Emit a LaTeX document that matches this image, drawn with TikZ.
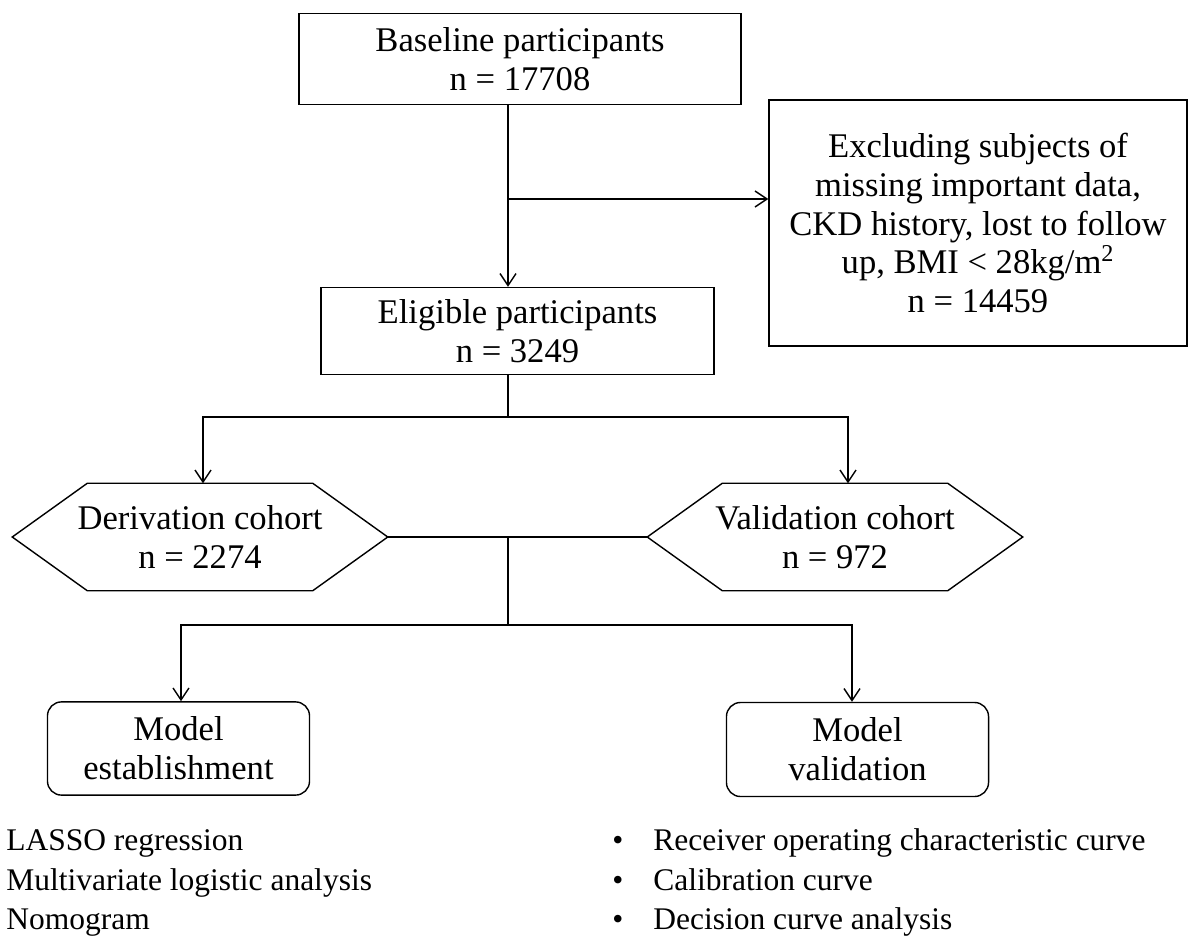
\documentclass[tikz,border=0pt]{standalone}
\usepackage{fontspec}
\setmainfont{Liberation Serif}
\usetikzlibrary{arrows.meta}

\tikzset{
  flowbox/.style={draw, line width=1pt, align=center, inner sep=0pt,
    font=\fontsize{24.6}{27.7}\selectfont},
  roundbox/.style={flowbox, rounded corners=10pt},
  cohort/.style={flowbox, draw=none, minimum width=9.35cm, minimum height=2.65cm},
  link/.style={line width=1pt},
  arr/.style={link, -{Straight Barb[length=3mm, width=4mm]}},
  listtext/.style={anchor=base west, inner sep=0pt,
    font=\fontsize{22.4}{27}\selectfont}
}

\begin{document}
\begin{tikzpicture}[x=0.025cm, y=-0.025cm]
  \path[use as bounding box, clip] (0,0) rectangle (1188,938);

  % boxes
  \node[flowbox, minimum width=11.05cm, minimum height=2.275cm] (base) at (520,59)
    {Baseline participants\\n = 17708};
  \node[flowbox, minimum width=10.45cm, minimum height=6.15cm] (excl) at (978,223)
    {Excluding subjects of\\missing important data,\\CKD history, lost to follow\\up, BMI < 28kg/m\textsuperscript{2}\\n = 14459};
  \node[flowbox, minimum width=9.825cm, minimum height=2.175cm] (elig) at (517.5,331)
    {Eligible participants\\n = 3249};
  \node[cohort] (deriv) at (200,537) {Derivation cohort\\n = 2274};
  \node[cohort] (valid) at (835,537) {Validation cohort\\n = 972};
  % hexagon outlines
  \foreach \c in {deriv, valid}
    \draw[link] (\c.west) -- ([xshift=1.875cm]\c.north west)
      -- ([xshift=-1.875cm]\c.north east) -- (\c.east)
      -- ([xshift=-1.875cm]\c.south east) -- ([xshift=1.875cm]\c.south west) -- cycle;
  \node[roundbox, minimum width=6.55cm, minimum height=2.33cm] (mest) at (178.5,748.5)
    {Model\\establishment};
  \node[roundbox, minimum width=6.55cm, minimum height=2.35cm] (mval) at (857.5,749.5)
    {Model\\validation};

  % branch points
  \coordinate (j1) at (508,199);
  \coordinate (j2) at (508,417);
  \coordinate (j3) at (508,537);
  \coordinate (j4) at (508,625);

  % connectors
  \draw[arr] (base.south -| j1) -- (elig.north -| j1);
  \draw[arr] (j1) -- (j1 -| excl.west);
  \draw[link] (elig.south -| j2) -- (j2);
  \draw[arr] (j2) -- (203,417) -- (deriv.north -| 203,0);
  \draw[arr] (j2) -- (848,417) -- (valid.north -| 848,0);
  \draw[link] (deriv.east) -- (valid.west);
  \draw[link] (j3) -- (j4);
  \draw[arr] (j4) -- (181,625) -- (mest.north -| 181,0);
  \draw[arr] (j4) -- (852,625) -- (mval.north -| 852,0);

  % analysis lists
  \node[listtext] (l1) at (6,850) {LASSO regression};
  \node[listtext] (l2) at (6,890) {Multivariate logistic analysis};
  \node[listtext] (l3) at (6,929) {Nomogram};
  \foreach \y/\name/\txt in {850/r1/Receiver operating characteristic curve,
                             890/r2/Calibration curve,
                             929/r3/Decision curve analysis} {
    \node[listtext] (\name b) at (612,\y) {\textbullet};
    \node[listtext] (\name) at (653,\y) {\txt};
  }
\end{tikzpicture}
\end{document}
